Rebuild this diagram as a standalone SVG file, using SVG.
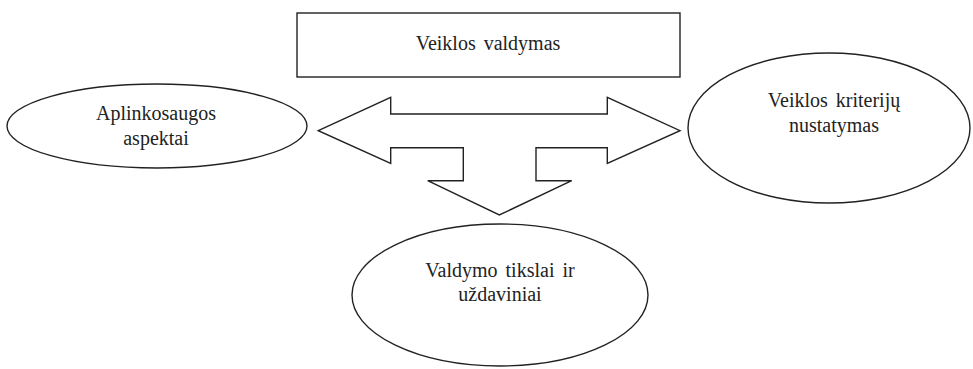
<svg xmlns="http://www.w3.org/2000/svg" width="973" height="369" viewBox="0 0 973 369">
<style>
.s{fill:#fff;stroke:#222;stroke-width:1.4}
.t{font-size:20px;fill:#222;text-anchor:middle;word-spacing:3px}
</style>
<rect width="973" height="369" fill="#fff"/>
<g id="connectors">
<path class="s" d="M318.3,130.7 L390.7,97.3 L390.7,114 L607.3,114 L607.3,97.3 L680,130.7 L607.3,163.3 L607.3,147.7 L536,147.7 L536,180.7 L571.7,180.7 L499.3,215 L427.7,180.7 L463.3,180.7 L463.3,147.7 L390.7,147.7 L390.7,163.3 Z"/>
</g>
<g id="veiklos-valdymas">
<rect class="s" x="297" y="13" width="383" height="64"/>
<text class="t" font-family="'Liberation Serif', 'DejaVu Serif', serif" x="488" y="50">Veiklos valdymas</text>
</g>
<g id="aplinkosaugos">
<ellipse class="s" cx="157" cy="126" rx="150" ry="42"/>
<text class="t" font-family="'Liberation Serif', 'DejaVu Serif', serif" x="156" y="120">Aplinkosaugos</text>
<text class="t" font-family="'Liberation Serif', 'DejaVu Serif', serif" x="156" y="145">aspektai</text>
</g>
<g id="kriteriju">
<ellipse class="s" cx="829" cy="128" rx="141" ry="75"/>
<text class="t" font-family="'Liberation Serif', 'DejaVu Serif', serif" x="834" y="107">Veiklos kriterijų</text>
<text class="t" font-family="'Liberation Serif', 'DejaVu Serif', serif" x="834" y="132">nustatymas</text>
</g>
<g id="tikslai">
<ellipse class="s" cx="500" cy="295" rx="148" ry="71"/>
<text class="t" font-family="'Liberation Serif', 'DejaVu Serif', serif" x="500" y="277">Valdymo tikslai ir</text>
<text class="t" font-family="'Liberation Serif', 'DejaVu Serif', serif" x="500" y="301">uždaviniai</text>
</g>
</svg>
